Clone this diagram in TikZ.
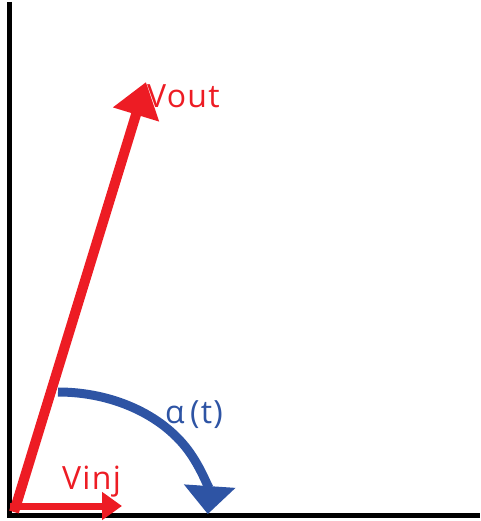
\documentclass[tikz,border=0pt]{standalone}
\usepackage{fontspec}
\setmainfont{Open Sans}[LetterSpace=4]
\usetikzlibrary{arrows.meta,positioning}
\definecolor{vecRed}{RGB}{237,28,36}
\definecolor{vecBlue}{RGB}{46,84,164}

\begin{document}
\begin{tikzpicture}[x=1pt,y=-1pt,
    axis/.style={line width=5pt,draw=black},
    vec/.style={line width=10pt,draw=vecRed,-{Triangle[length=34pt,width=46pt]}},
    small/.style={line width=7pt,draw=vecRed,-{Triangle[length=20pt,width=27pt]}},
    turn/.style={line width=9pt,draw=vecBlue,-{Triangle[length=28pt,width=50pt]}},
    lbl/.style={inner sep=0pt,anchor=base west,font=\fontsize{32}{32}\selectfont}
  ]
  \useasboundingbox (0,0) rectangle (480,521);
  % axes
  \coordinate (top) at (9,2);
  \coordinate (o) at (9,515);
  \coordinate (right) at (480,515);
  \draw[axis] (top) -- (o) -- (right);
  % vectors
  \coordinate (voutStart) at (14,512);
  \coordinate (voutTip) at (146,82);
  \coordinate (vinjStart) at (10,506);
  \coordinate (vinjTip) at (122,506);
  \draw[vec] (voutStart) -- (voutTip);
  \draw[small] (vinjStart) -- (vinjTip);
  % angle
  \coordinate (arcStart) at (58,392);
  \draw[turn] (arcStart) arc[start angle=90,end angle=-3,x radius=150,y radius=-116];
  % labels
  \node[lbl,text=vecRed] (vout) at (147,108) {Vout};
  \node[lbl,text=vecRed] (vinj) at (62,489) {Vinj};
  \node[lbl,text=vecBlue] (alpha) at (165,423) {α\,(t)};
\end{tikzpicture}
\end{document}
